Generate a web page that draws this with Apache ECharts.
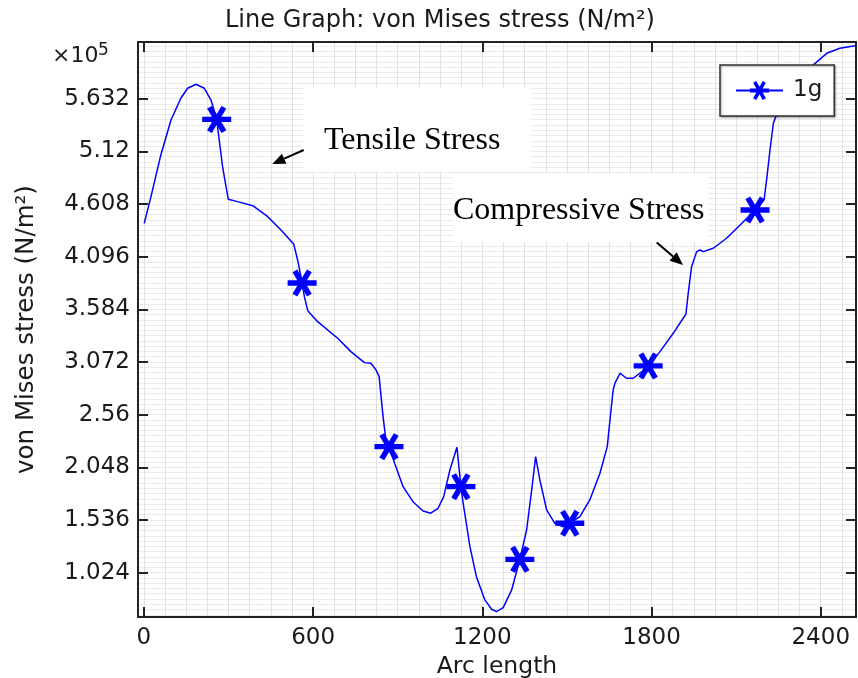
<!DOCTYPE html>
<html>
<head>
<meta charset="utf-8">
<script src="https://cdn.jsdelivr.net/npm/echarts@6/dist/echarts.min.js"></script>
<style>html,body{margin:0;padding:0;background:#fff}#c{width:858px;height:678px}</style>
</head>
<body>
<div id="c"></div>
<script>
// ---- data (stress values in units of 1e5 N/m^2) ----
const arcLength = [1, 25, 60, 96, 131, 155, 185, 214, 238, 258, 267, 279, 299, 332, 386, 439, 486, 531, 545, 561, 569, 581, 616, 687, 734, 782, 805, 812, 823, 834, 848, 858, 869, 889, 919, 954, 990, 1017, 1043, 1063, 1085, 1110, 1124, 1132, 1156, 1179, 1209, 1233, 1250, 1274, 1304, 1333, 1357, 1375, 1389, 1404, 1428, 1457, 1487, 1510, 1546, 1581, 1617, 1643, 1655, 1664, 1670, 1688, 1711, 1735, 1759, 1788, 1830, 1877, 1922, 1930, 1942, 1960, 1972, 1983, 2019, 2066, 2114, 2167, 2199, 2208, 2220, 2232, 2241, 2255, 2275, 2305, 2340, 2374, 2421, 2468, 2516, 2525];
const stress = [4.42, 4.68, 5.085, 5.425, 5.636, 5.733, 5.772, 5.733, 5.619, 5.43, 5.23, 4.97, 4.654, 4.631, 4.592, 4.485, 4.356, 4.22, 4.064, 3.84, 3.707, 3.571, 3.464, 3.303, 3.173, 3.066, 3.06, 3.07, 2.995, 2.93, 2.541, 2.314, 2.249, 2.088, 1.86, 1.714, 1.624, 1.602, 1.65, 1.763, 2.023, 2.243, 1.86, 1.699, 1.277, 0.985, 0.759, 0.668, 0.645, 0.684, 0.856, 1.154, 1.439, 1.828, 2.152, 1.925, 1.634, 1.504, 1.47, 1.504, 1.569, 1.731, 1.991, 2.249, 2.574, 2.80, 2.865, 2.963, 2.914, 2.914, 2.963, 3.034, 3.173, 3.351, 3.539, 3.74, 3.999, 4.145, 4.161, 4.145, 4.178, 4.275, 4.404, 4.55, 4.647, 4.842, 5.133, 5.393, 5.46, 5.58, 5.70, 5.80, 5.89, 5.96, 6.073, 6.122, 6.144, 6.15];
const markerArc = [258, 561, 869, 1124, 1333, 1510, 1788, 2167];
const markerStress = [5.43, 3.84, 2.249, 1.86, 1.154, 1.504, 3.034, 4.55];
const xTicks = [0, 600, 1200, 1800, 2400];
const yTicks = [1.024, 1.536, 2.048, 2.56, 3.072, 3.584, 4.096, 4.608, 5.12, 5.632];
const seriesName = '1g';
const titleText = 'Line Graph: von Mises stress (N/m²)';
const xName = 'Arc length';
const yName = 'von Mises stress (N/m²)';
const exponentBase = '×10';
const exponentPower = '5';
const annotationTexts = ['Tensile Stress', 'Compressive Stress'];

// ---- axis extents ----
const X_MIN = -21, X_MAX = 2525, Y_MIN = 0.593, Y_MAX = 6.183;
const xMinor = [];
for (let v = 0; v <= X_MAX; v += 75) xMinor.push(v);
const yMinor = [];
for (let k = 12; k * 0.0512 <= Y_MAX; k++) yMinor.push(+(k * 0.0512).toFixed(4));

const FONT = 'DejaVu Sans';
const TXT = '#1a1a1a';
const AX = '#222';
const BLUE = '#0000ff';

// asterisk symbol built from three bars (horizontal, +60deg, -60deg)
function asteriskPath(t) {
  const h = t / 2, c = 50, r = 50;
  const bars = [0, 60, -60].map(a => {
    const rad = a * Math.PI / 180;
    const dx = Math.cos(rad), dy = Math.sin(rad), nx = -dy, ny = dx;
    const p = [
      [c - r * dx - h * nx, c - r * dy - h * ny],
      [c + r * dx - h * nx, c + r * dy - h * ny],
      [c + r * dx + h * nx, c + r * dy + h * ny],
      [c - r * dx + h * nx, c - r * dy + h * ny]
    ];
    return 'M' + p.map(q => q[0].toFixed(2) + ' ' + q[1].toFixed(2)).join(' L') + ' Z';
  });
  return 'path://' + bars.join(' ');
}
const ASTERISK = asteriskPath(19);

function arrow(x1, y1, x2, y2) {
  const dx = x2 - x1, dy = y2 - y1, L = Math.hypot(dx, dy);
  const ux = dx / L, uy = dy / L, px = -uy, py = ux;
  const hl = 13, hw = 5.5;
  const bx = x2 - hl * ux, by = y2 - hl * uy;
  return [
    { type: 'line', z: 20, shape: { x1: x1, y1: y1, x2: bx, y2: by }, style: { stroke: '#000', lineWidth: 2 } },
    { type: 'polygon', z: 20, shape: { points: [[x2, y2], [bx + hw * px, by + hw * py], [bx - hw * px, by - hw * py]] }, style: { fill: '#000' } }
  ];
}

const chart = echarts.init(document.getElementById('c'), null, { renderer: 'canvas' });

function mainX(pos, withLabels) {
  return {
    type: 'value', min: X_MIN, max: X_MAX, position: pos, gridIndex: 0,
    axisLine: { show: true, onZero: false, lineStyle: { color: AX, width: 2 } },
    axisTick: { show: true, inside: true, length: 10, customValues: xTicks, lineStyle: { color: AX, width: 2 } },
    axisLabel: withLabels ? { show: true, customValues: xTicks, fontSize: 23, fontFamily: FONT, color: TXT, margin: 10, formatter: v => String(v) } : { show: false },
    splitLine: { show: false },
    name: withLabels ? xName : '',
    nameLocation: 'middle', nameGap: 31,
    nameTextStyle: { fontSize: 23.5, fontFamily: FONT, color: TXT }
  };
}
function mainY(pos, withLabels) {
  return {
    type: 'value', min: Y_MIN, max: Y_MAX, position: pos, gridIndex: 0,
    axisLine: { show: true, onZero: false, lineStyle: { color: AX, width: 2 } },
    axisTick: { show: true, inside: true, length: 10, customValues: yTicks, lineStyle: { color: AX, width: 2 } },
    axisLabel: withLabels ? { show: true, customValues: yTicks, fontSize: 23, fontFamily: FONT, color: TXT, margin: 8, formatter: v => String(v) } : { show: false },
    splitLine: { show: false },
    name: withLabels ? yName : '',
    nameLocation: 'middle', nameGap: 99, nameRotate: 90,
    nameTextStyle: { fontSize: 24.5, fontFamily: FONT, color: TXT }
  };
}
function gridAxis(min, max, vals, color) {
  return {
    type: 'value', min: min, max: max, gridIndex: 0,
    axisLine: { show: false }, axisLabel: { show: false },
    axisTick: { show: false, customValues: vals },
    splitLine: { show: true, lineStyle: { color: color, width: 1 } }
  };
}

const option = {
  animation: false,
  backgroundColor: '#fff',
  title: {
    text: titleText, left: 220, top: 4,
    textStyle: { fontSize: 24, fontWeight: 'normal', fontFamily: FONT, color: TXT }
  },
  grid: { left: 138, right: 2, top: 42, bottom: 61, outerBoundsMode: 'none', containLabel: false },
  xAxis: [mainX('bottom', true), mainX('top', false), gridAxis(X_MIN, X_MAX, xMinor, '#e0e0e0')],
  yAxis: [mainY('left', true), mainY('right', false), gridAxis(Y_MIN, Y_MAX, yMinor, '#ebebeb')],
  legend: {
    data: [seriesName], left: 720, top: 65, orient: 'horizontal',
    backgroundColor: '#fff', borderColor: '#333', borderWidth: 1.5,
    shadowColor: 'rgba(0,0,0,0.35)', shadowOffsetX: 1, shadowOffsetY: 1, shadowBlur: 2,
    padding: [14, 12, 14, 15], itemWidth: 47, itemHeight: 24,
    lineStyle: { width: 2 },
    textStyle: { fontSize: 23, fontFamily: FONT, color: TXT, padding: [0, 0, 0, 5] }
  },
  series: [
    {
      name: seriesName, type: 'line', xAxisIndex: 0, yAxisIndex: 0,
      data: arcLength.map((x, i) => [x, stress[i]]),
      showSymbol: false, symbol: ASTERISK, symbolSize: 16,
      lineStyle: { color: BLUE, width: 1.5 }, itemStyle: { color: BLUE, opacity: 1 },
      z: 3, silent: true
    },
    {
      name: 'markers', type: 'scatter', xAxisIndex: 0, yAxisIndex: 0,
      data: markerArc.map((x, i) => [x, markerStress[i]]),
      symbol: ASTERISK, symbolSize: [29, 27],
      itemStyle: { color: BLUE, opacity: 1 }, z: 4, silent: true
    }
  ],
  graphic: [
    { type: 'text', left: 52, top: 45, z: 20, style: { text: exponentBase, fontSize: 22, fontFamily: FONT, fill: TXT } },
    { type: 'text', left: 98, top: 42, z: 20, style: { text: exponentPower, fontSize: 17, fontFamily: FONT, fill: TXT } },
    { type: 'rect', z: 10, shape: { x: 303, y: 87, width: 228, height: 85 }, style: { fill: '#fff' } },
    { type: 'rect', z: 10, shape: { x: 453, y: 173, width: 255, height: 69 }, style: { fill: '#fff' } },
    { type: 'text', z: 21, x: 324, y: 141, style: { text: annotationTexts[0], fontSize: 32, fontFamily: 'Liberation Serif', fill: '#000', verticalAlign: 'middle' } },
    { type: 'text', z: 21, x: 453, y: 211, style: { text: annotationTexts[1], fontSize: 32, fontFamily: 'Liberation Serif', fill: '#000', verticalAlign: 'middle' } }
  ].concat(arrow(303.7, 150, 272.3, 164)).concat(arrow(656.7, 242.5, 683, 265))
};
chart.setOption(option);
</script>
</body>
</html>
